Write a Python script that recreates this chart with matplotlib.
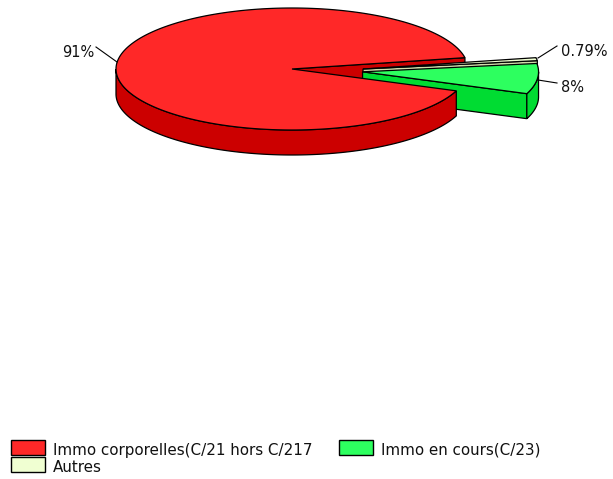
import numpy as np
import matplotlib
matplotlib.use('Agg')
import matplotlib.pyplot as plt
from matplotlib.patches import Polygon, Rectangle

labels = ['Immo corporelles(C/21 hors C/217', 'Immo en cours(C/23)', 'Autres']
shares = [91, 8, 0.79]
share_text = ['91%', '8%', '0.79%']

top_colors = ['#ff2828', '#2dff5f', '#f0ffd2']
side_colors = ['#cc0000', '#00dc32', '#d2dcaa']

# pie geometry, in pixels of the 613x479 picture
cx, cy = 292, 69
rx, ry = 176, 61
depth = 25
explode = 71
start = -21

fig = plt.figure(figsize=(6.13, 4.79), dpi=100)
ax = fig.add_axes([0, 0, 1, 1])
ax.set_xlim(0, 613)
ax.set_ylim(479, 0)
ax.axis('off')


def arc(x0, y0, a, b):
    t = np.radians(np.linspace(a, b, 200))
    return np.column_stack([x0 + rx*np.cos(t), y0 - ry*np.sin(t)])


def poly(pts, color, z):
    ax.add_patch(Polygon(pts, closed=True, facecolor=color, edgecolor='black',
                         linewidth=0.9, zorder=z))


def wall(x0, y0, a, color, z):
    # flat wall of a slice, from the centre out to angle a
    p = arc(x0, y0, a, a)[0]
    poly([(x0, y0), p, (p[0], p[1] + depth), (x0, y0 + depth)], color, z)


# angle span of each slice, going anticlockwise from the green one
spans = np.array(shares)/sum(shares)*360
a_green = (start, start + spans[1])
a_beige = (a_green[1], a_green[1] + spans[2])
a_red = (a_beige[1], a_beige[1] + spans[0])

########################################
# Red slice: wall of the cut at the back goes first, the rest last.
wall(cx, cy, a_red[0], side_colors[0], 1)

rim = arc(cx, cy, 180, a_red[1])
poly(np.vstack([rim, (rim + [0, depth])[::-1]]), side_colors[0], 6)
poly(np.vstack([[(cx, cy)], arc(cx, cy, *a_red)]), top_colors[0], 7)

########################################
# Autres, thin slice behind the green one.
bx, by = cx + explode, cy
wall(bx, by, a_beige[0], side_colors[2], 2)
poly(np.vstack([[(bx, by)], arc(bx, by, *a_beige)]), top_colors[2], 2)

########################################
# Green slice, pulled out along its middle angle.
mid = np.radians(sum(a_green)/2)
gx, gy = cx + explode*np.cos(mid), cy - explode*np.sin(mid)*ry/rx
wall(gx, gy, a_green[0], side_colors[1], 3)
rim = arc(gx, gy, a_green[0], 0)
poly(np.vstack([rim, (rim + [0, depth])[::-1]]), side_colors[1], 3)
poly(np.vstack([[(gx, gy)], arc(gx, gy, *a_green)]), top_colors[1], 4)

########################################
# Percentage labels with their leader lines.
font = dict(family='DejaVu Sans', color='#111111', va='center')
ax.plot([117, 96], [62, 47], color='black', lw=0.8, zorder=8)
ax.text(94, 52, share_text[0], ha='right', fontsize=10.5, **font)
ax.plot([538, 557], [80, 83], color='black', lw=0.8, zorder=8)
ax.text(561, 87, share_text[1], ha='left', fontsize=10.5, **font)
ax.plot([538, 557], [58, 46], color='black', lw=0.8, zorder=8)
ax.text(561, 51, share_text[2], ha='left', fontsize=10.5, **font)

########################################
# Legend.
boxes = [(11, 440), (339, 440), (11, 457)]
for (x, y), label, color in zip(boxes, labels, top_colors):
    ax.add_patch(Rectangle((x, y), 34, 15, facecolor=color, edgecolor='black',
                           linewidth=1, zorder=5))
    ax.text(x + 42, y + 10, label, ha='left', fontsize=10.9, **font)

plt.savefig('out.png', dpi=100)
